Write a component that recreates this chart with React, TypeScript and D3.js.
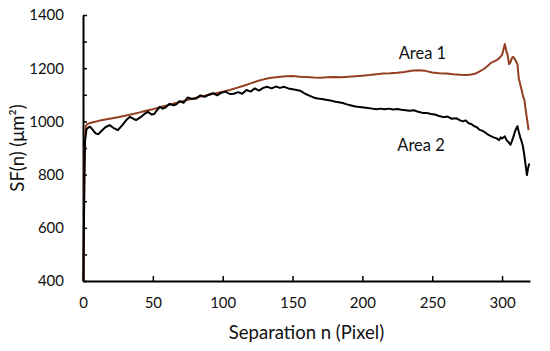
import React, { useEffect, useRef } from "react";
import * as d3 from "d3";

// structure function SF(n): [separation n, SF]
const area1: [number, number][] = [
  [0.3, 400], [0.8, 700], [1.2, 880], [1.6, 960], [2, 982], [3, 990], [5, 994], [8, 998],
  [12, 1003], [16, 1007], [20, 1011], [25, 1016], [30, 1021], [35, 1027], [40, 1033],
  [45, 1040], [50, 1046], [55, 1053], [60, 1060], [65, 1067], [70, 1074], [75, 1081],
  [80, 1088], [85, 1094], [90, 1100], [95, 1106], [100, 1112], [105, 1118], [110, 1126],
  [115, 1134], [120, 1143], [125, 1152], [130, 1159], [135, 1164], [140, 1167], [145, 1170],
  [150, 1171], [155, 1168], [160, 1167], [165, 1165], [170, 1164], [175, 1166], [180, 1167],
  [185, 1166], [190, 1168], [195, 1170], [200, 1172], [205, 1174], [210, 1177], [215, 1180],
  [220, 1181], [225, 1183], [230, 1186], [235, 1190], [240, 1192], [245, 1190], [250, 1184],
  [255, 1181], [260, 1180], [265, 1177], [270, 1175], [275, 1174], [278, 1176], [281, 1180],
  [284, 1188], [287, 1197], [290, 1210], [292, 1220], [294, 1225], [296, 1230], [298, 1238],
  [300, 1250], [301, 1270], [302, 1291], [303, 1265], [304, 1249], [305, 1215], [306, 1222],
  [307, 1238], [308, 1243], [309, 1235], [310, 1226], [311, 1215], [312, 1160], [313, 1140],
  [314, 1118], [315, 1095], [316, 1080], [317, 1040], [318, 1005], [319, 967],
];

const area2: [number, number][] = [
  [0.3, 400], [1, 800], [1.5, 930], [2.5, 970], [4, 978], [5, 980], [7, 968], [9, 955],
  [11, 952], [13, 963], [16, 978], [19, 986], [22, 975], [25, 967], [28, 985], [31, 1005],
  [33.5, 1017], [36, 1010], [38, 1005], [41, 1015], [44, 1028], [46.5, 1036], [49, 1026],
  [51, 1028], [53, 1042], [55, 1055], [57, 1048], [59, 1052], [62, 1066], [65, 1060],
  [67, 1065], [69, 1076], [72, 1070], [75, 1090], [78, 1084], [81, 1086], [84, 1098],
  [87, 1092], [90, 1100], [93, 1106], [96, 1098], [99, 1108], [102, 1112], [105, 1103],
  [108, 1104], [111, 1110], [114, 1104], [117, 1118], [120, 1112], [123, 1124], [126, 1116],
  [129, 1126], [132, 1130], [135, 1124], [138, 1131], [141, 1126], [144, 1130], [147, 1124],
  [150, 1121], [153, 1118], [156, 1114], [159, 1104], [162, 1097], [165, 1090], [168, 1086],
  [171, 1084], [174, 1081], [177, 1079], [180, 1075], [183, 1072], [186, 1069], [189, 1064],
  [192, 1060], [195, 1056], [198, 1054], [201, 1052], [204, 1050], [207, 1048], [210, 1046],
  [213, 1048], [216, 1046], [219, 1048], [222, 1045], [225, 1047], [228, 1044], [231, 1042],
  [234, 1040], [237, 1042], [240, 1036], [243, 1032], [246, 1032], [249, 1028], [252, 1026],
  [255, 1020], [258, 1016], [261, 1018], [264, 1010], [267, 1012], [270, 1004], [272, 1000],
  [274, 1004], [276, 993], [278, 990], [280, 982], [282, 978], [284, 968], [286, 965],
  [288, 958], [290, 950], [292, 945], [294, 940], [296, 936], [298, 930], [299, 940],
  [300, 936], [302, 944], [303, 932], [304, 925], [305, 920], [306, 912], [307, 925],
  [308, 940], [309, 958], [310, 972], [311, 982], [312, 960], [313, 940], [314, 925],
  [315, 905], [316, 870], [317, 830], [317.8, 798], [318.5, 822], [319.5, 842],
];

const xTicks = [0, 50, 100, 150, 200, 250, 300];
const yTicks = [400, 500, 600, 700, 800, 900, 1000, 1100, 1200, 1300, 1400];
const yLabelled = [400, 600, 800, 1000, 1200, 1400];

const seriesLabels = [
  { name: "Area 1", n: 243, sf: 1235 },
  { name: "Area 2", n: 242, sf: 887 },
];

const W = 550;
const H = 351;
const margin = { left: 83, right: 20, top: 15, bottom: 70 };
const font = "Lato, 'Open Sans', sans-serif";

export default function App() {
  const ref = useRef<SVGSVGElement>(null);

  useEffect(() => {
    const svg = d3.select(ref.current);
    svg.selectAll("*").remove();

    const x = d3.scaleLinear().domain([0, 320]).range([margin.left, W - margin.right]);
    const y = d3.scaleLinear().domain([400, 1400]).range([H - margin.bottom, margin.top]);

    // axes, ticks point inwards
    const xAxis = svg.append("g")
      .attr("transform", `translate(0, ${y(400)})`)
      .call(d3.axisBottom(x).tickValues(xTicks).tickSizeInner(-5).tickSizeOuter(0).tickPadding(16));

    const yAxis = svg.append("g")
      .attr("transform", `translate(${x(0)}, 0)`)
      .call(
        d3.axisLeft(y)
          .tickValues(yTicks)
          .tickSizeInner(-4)
          .tickSizeOuter(0)
          .tickPadding(19)
          .tickFormat((d) => (yLabelled.includes(+d) ? String(d) : ""))
      );

    [xAxis, yAxis].forEach((g) => {
      g.select(".domain").attr("stroke", "#000").attr("stroke-width", 2);
      g.selectAll(".tick line").attr("stroke", "#000").attr("stroke-width", 1.5);
      g.selectAll(".tick text")
        .attr("font-family", font)
        .attr("font-size", 15)
        .attr("fill", "#111");
    });

    const line = d3.line<[number, number]>()
      .x((d) => x(d[0]))
      .y((d) => y(d[1]));

    svg.append("path")
      .datum(area1)
      .attr("d", line)
      .attr("fill", "none")
      .attr("stroke", "#943F22")
      .attr("stroke-width", 2)
      .attr("stroke-linejoin", "round");

    svg.append("path")
      .datum(area2)
      .attr("d", line)
      .attr("fill", "none")
      .attr("stroke", "#000")
      .attr("stroke-width", 2)
      .attr("stroke-linejoin", "round");

    // series labels
    svg.selectAll(".series-label")
      .data(seriesLabels)
      .enter()
      .append("text")
      .attr("x", (d) => x(d.n))
      .attr("y", (d) => y(d.sf))
      .attr("text-anchor", "middle")
      .attr("font-family", font)
      .attr("font-size", 16.5)
      .attr("fill", "#111")
      .text((d) => d.name);

    // x-axis label
    svg.append("text")
      .attr("x", (x(0) + x(320)) / 2)
      .attr("y", 339)
      .attr("text-anchor", "middle")
      .attr("font-family", font)
      .attr("font-size", 18.5)
      .attr("fill", "#111")
      .text("Separation n (Pixel)");

    // y-axis label
    svg.append("text")
      .attr("transform", `translate(24, ${(y(400) + y(1400)) / 2}) rotate(-90)`)
      .attr("text-anchor", "middle")
      .attr("font-family", font)
      .attr("font-size", 18.5)
      .attr("fill", "#111")
      .text("SF(n) (μm²)");
  }, []);

  return (
    <svg
      ref={ref}
      width={W}
      height={H}
      style={{ position: "absolute", left: 0, top: 0, background: "#fff" }}
    />
  );
}
